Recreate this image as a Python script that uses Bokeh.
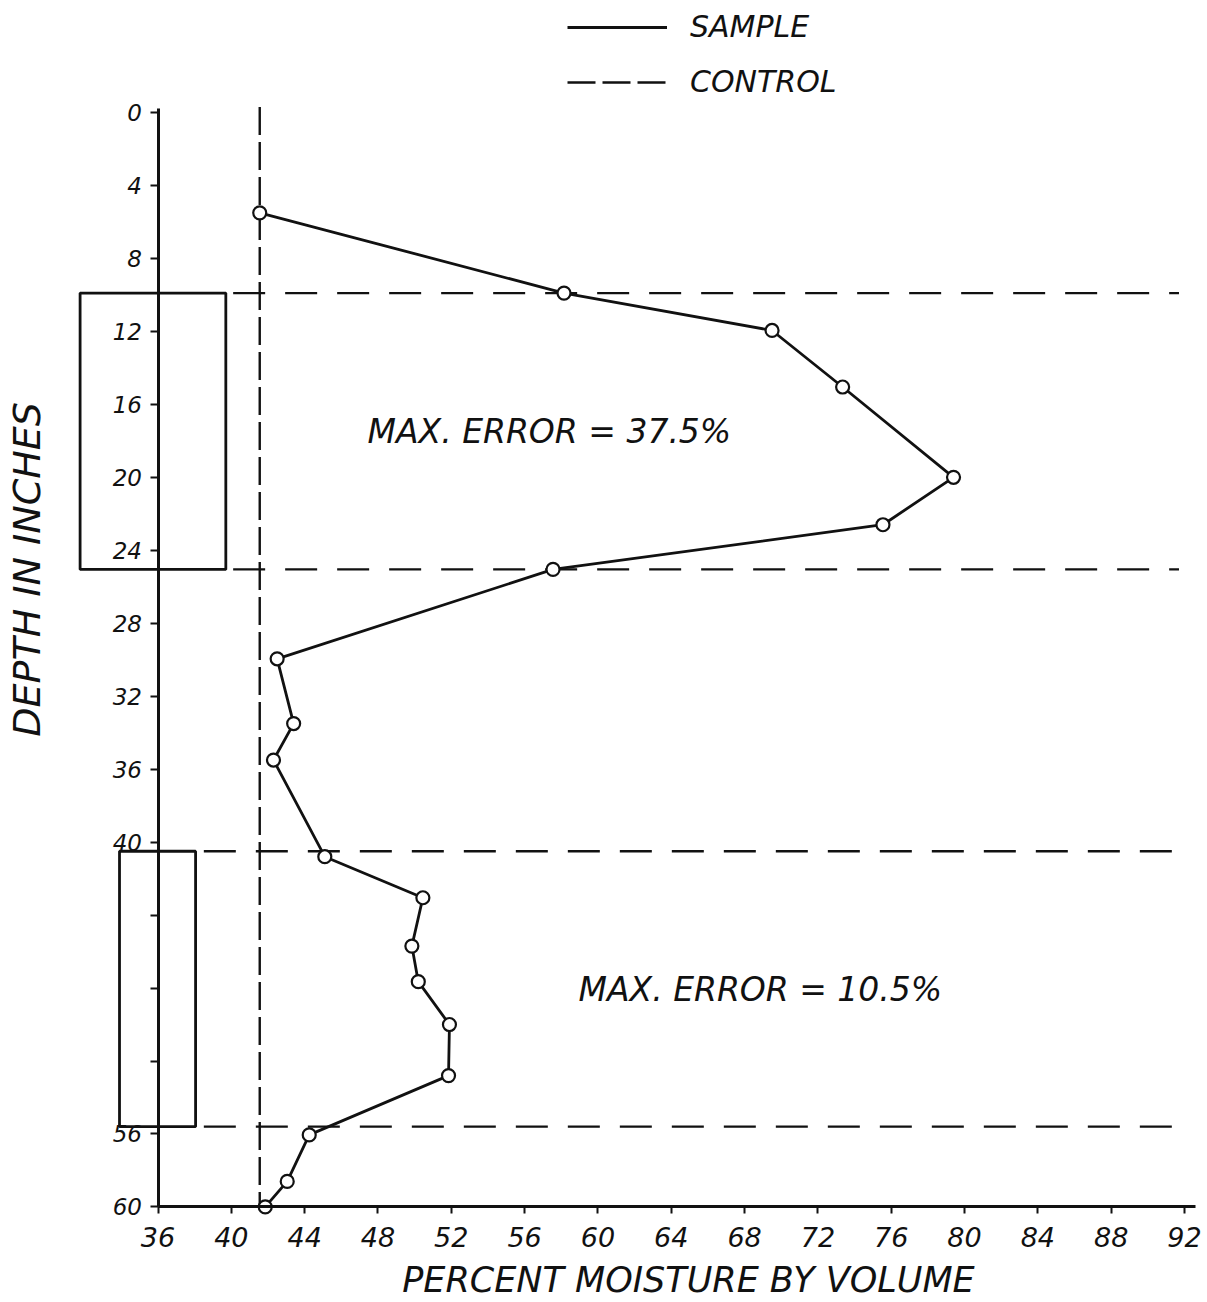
import math
from bokeh.plotting import figure
from bokeh.models import Range1d, FixedTicker, Legend, LegendItem, Label
from bokeh.embed import file_html
from bokeh.resources import INLINE

# ---- data ----
depth = [5.5, 9.9, 11.95, 15.05, 20.0, 22.6, 25.05, 29.95, 33.5, 35.5,
         40.8, 43.05, 45.7, 47.65, 50.0, 52.8, 56.05, 58.6, 60.0]
moisture = [41.55, 58.15, 69.5, 73.35, 79.4, 75.55, 57.55, 42.5, 43.4, 42.3,
            45.1, 50.45, 49.85, 50.2, 51.9, 51.85, 44.25, 43.05, 41.85]

control_moisture = 41.55
control_depth = [-0.3, 60.0]

boundary_depth = [9.9, 25.05, 40.5, 55.6]
boundary_start = [40.1, 40.1, 38.5, 38.5]
boundary_end = [91.7, 91.7, 91.7, 91.7]

box_left = [31.75, 33.9]
box_right = [39.7, 38.05]
box_top = [9.9, 40.5]
box_bottom = [25.05, 55.6]

x_ticks = list(range(36, 93, 4))
y_ticks = list(range(0, 61, 4))
y_unlabeled = [44, 48, 52]

x_title = "PERCENT MOISTURE BY VOLUME"
y_title = "DEPTH IN INCHES"
legend_labels = ["SAMPLE", "CONTROL"]
notes = ["MAX. ERROR = 37.5%", "MAX. ERROR = 10.5%"]

FONT = "DejaVu Sans"
INK = "#111111"

p = figure(frame_width=1192, frame_height=1300,
           min_border_left=10, min_border_right=0,
           min_border_top=0, min_border_bottom=0,
           x_range=Range1d(27.953, 92.983), y_range=Range1d(65.13, -6.14),
           output_backend="svg", toolbar_location=None,
           background_fill_color="white", border_fill_color="white")
p.outline_line_color = None
p.grid.visible = False

# boxes (sampled layers)
p.quad(left=box_left, right=box_right, top=box_top, bottom=box_bottom,
       fill_alpha=0, line_color=INK, line_width=2.8)

# layer boundaries
p.segment(x0=boundary_start, y0=boundary_depth, x1=boundary_end, y1=boundary_depth,
          line_color=INK, line_width=2.4, line_dash="32 20")

# control
ctrl = p.line(x=[control_moisture, control_moisture], y=control_depth,
              line_color=INK, line_width=2.4, line_dash="28 7")

# sample
samp = p.line(x=moisture, y=depth, line_color=INK, line_width=2.8)
p.scatter(x=moisture, y=depth, size=13, marker="circle", fill_color="white",
          line_color=INK, line_width=2.2)

# axes (both placed at data locations inside the frame)
xa = p.xaxis[0]
ya = p.yaxis[0]
xa.fixed_location = 60
ya.fixed_location = 36
xa.bounds = (36, 92.6)
ya.bounds = (-0.2, 60)
xa.ticker = FixedTicker(ticks=x_ticks)
ya.ticker = FixedTicker(ticks=y_ticks)
ya.major_label_overrides = {t: "" for t in y_unlabeled}
for ax in (xa, ya):
    ax.axis_line_width = 3
    ax.axis_line_color = INK
    ax.major_tick_line_width = 2
    ax.major_tick_line_color = INK
    ax.major_tick_in = 0
    ax.minor_tick_line_color = None
    ax.major_label_text_font = FONT
    ax.major_label_text_font_style = "italic"
    ax.major_label_text_color = INK
xa.major_tick_out = 7
ya.major_tick_out = 8
xa.major_label_text_font_size = "27px"
ya.major_label_text_font_size = "23px"
xa.major_label_standoff = 13
ya.major_label_standoff = 8

# axis titles
p.add_layout(Label(x=64.94, y=64.03, text=x_title, text_font=FONT,
                   text_font_style="italic", text_font_size="35px", text_color=INK,
                   text_align="center", text_baseline="middle"))
p.add_layout(Label(x=28.83, y=25.05, text=y_title, text_font=FONT, angle=math.pi / 2,
                   text_font_style="italic", text_font_size="38px", text_color=INK,
                   text_align="center", text_baseline="middle"))

# annotations
for x, y, t in [(47.43, 17.5, notes[0]), (58.94, 48.1, notes[1])]:
    p.add_layout(Label(x=x, y=y, text=t, text_font=FONT, text_font_style="italic",
                       text_font_size="33px", text_color=INK, text_baseline="middle"))

legend = Legend(items=[LegendItem(label=legend_labels[0], renderers=[samp]),
                       LegendItem(label=legend_labels[1], renderers=[ctrl])],
                location=(557, 1201), orientation="vertical",
                glyph_width=100, glyph_height=30, label_height=30,
                label_standoff=23, spacing=20, padding=0, margin=0,
                label_text_font=FONT, label_text_font_style="italic",
                label_text_font_size="30px", label_text_color=INK,
                border_line_alpha=0, background_fill_alpha=0)
p.add_layout(legend)

open("out.html", "w").write(file_html(p, INLINE))
